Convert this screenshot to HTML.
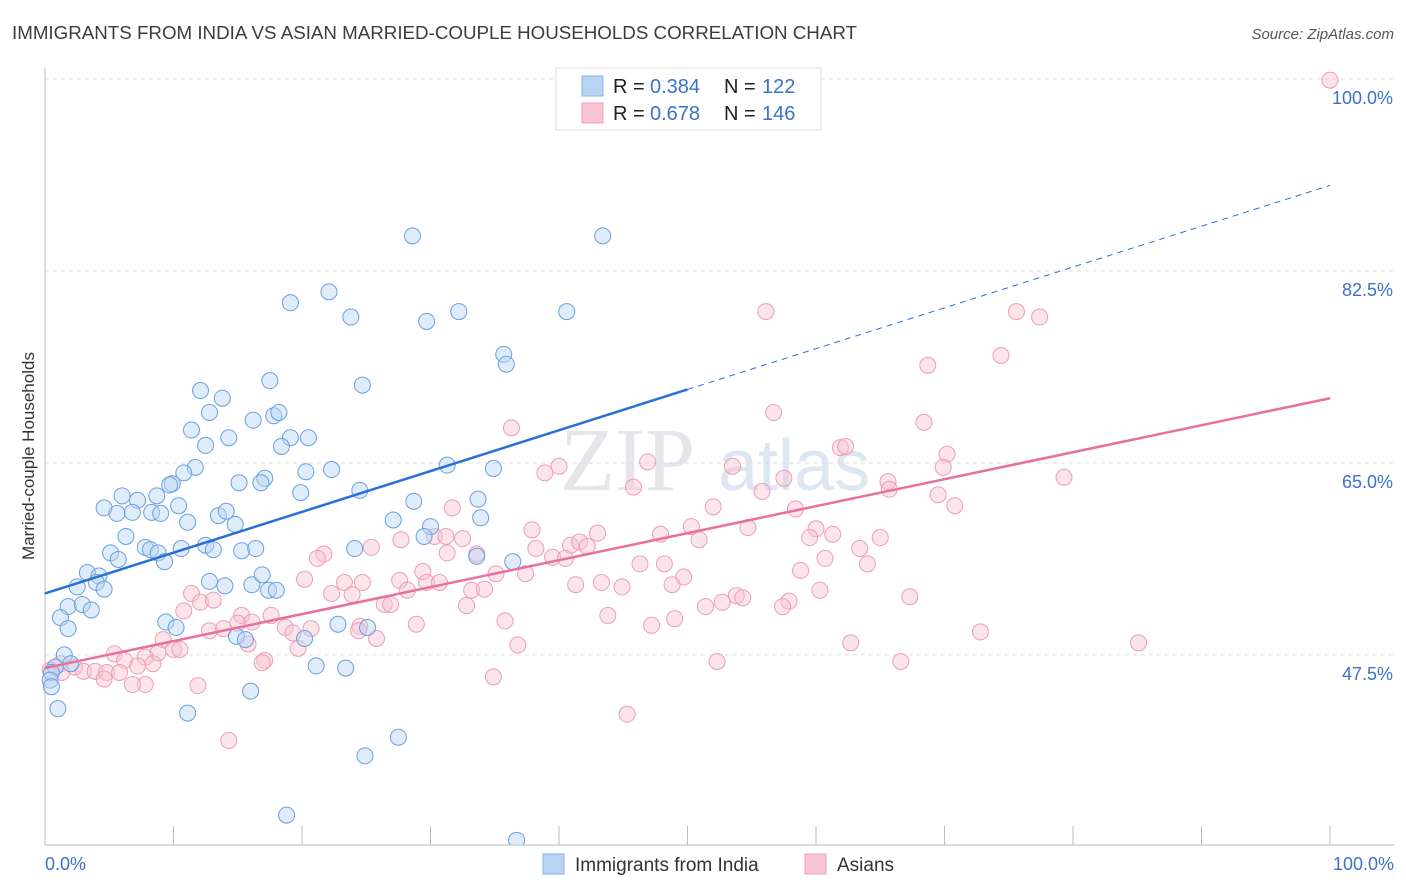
<!DOCTYPE html>
<html><head><meta charset="utf-8"><style>
body{margin:0;background:#fff;font-family:"Liberation Sans",sans-serif;}
svg{display:block}
</style></head><body>
<svg id="chart" width="1406" height="892">
<text x="12" y="39" font-size="18" fill="#3c3c3c" textLength="845" lengthAdjust="spacingAndGlyphs">IMMIGRANTS FROM INDIA VS ASIAN MARRIED-COUPLE HOUSEHOLDS CORRELATION CHART</text>
<text x="1394" y="39" font-size="15" fill="#555" font-style="italic" text-anchor="end">Source: ZipAtlas.com</text>
<text x="34" y="456" font-size="17" fill="#333" text-anchor="middle" transform="rotate(-90 34 456)">Married-couple Households</text>
<text x="560" y="490" font-size="90" fill="#e6e6ea" font-family="Liberation Serif,serif">ZIP</text>
<text x="718" y="490" font-size="72" fill="#dde6f2">atlas</text>
<g id="grid"></g>
<g id="axes"></g>
<defs><clipPath id="pc"><rect x="0" y="60" width="1406" height="785"/></clipPath></defs>
<g id="pts" clip-path="url(#pc)"></g>
<g id="lines"></g>
<g>
<rect x="556" y="68" width="265" height="62" fill="#fff" stroke="#ddd"/>
<rect x="582" y="76" width="21" height="20" fill="#b8d4f5" stroke="#8ab4e8"/>
<rect x="582" y="103" width="21" height="20" fill="#f9c4d3" stroke="#ee9db5"/>
<text x="613" y="93" font-size="20" fill="#222">R =</text>
<text x="650" y="93" font-size="20" fill="#3a72cc">0.384</text>
<text x="724" y="93" font-size="20" fill="#222">N =</text>
<text x="762" y="93" font-size="20" fill="#3a72cc">122</text>
<text x="613" y="120" font-size="20" fill="#222">R =</text>
<text x="650" y="120" font-size="20" fill="#3a72cc">0.678</text>
<text x="724" y="120" font-size="20" fill="#222">N =</text>
<text x="762" y="120" font-size="20" fill="#3a72cc">146</text>
</g>
<g>
<rect x="543" y="854" width="21" height="20" fill="#b8d4f5" stroke="#8ab4e8"/>
<text x="575" y="871" font-size="19" fill="#333">Immigrants from India</text>
<rect x="805" y="854" width="21" height="20" fill="#f9c4d3" stroke="#ee9db5"/>
<text x="837" y="871" font-size="19" fill="#333">Asians</text>
</g>
<text x="45" y="870" font-size="18" fill="#3a72cc">0.0%</text>
<text x="1394" y="870" font-size="18" fill="#3a72cc" text-anchor="end">100.0%</text>
</svg>
<script>
const yTicks=[100,82.5,65,47.5];
const yTickLabels=["100.0%","82.5%","65.0%","47.5%"];
const blueX=[28.6,43.4,19.1,22.1,23.8,29.7,32.2,40.6,35.7,35.9,24.7,17.5,12.1,13.8,12.8,16.2,17.8,18.2,11.4,14.3,19.1,20.5,18.4,12.5,31.3,34.9,11.7,10.8,20.3,22.3,17.1,16.8,15.1,9.9,9.7,8.7,6.0,7.2,19.9,24.5,28.7,33.7,4.6,10.4,5.6,6.8,8.3,9.0,13.5,14.1,11.1,14.8,27.1,33.9,30.0,29.5,6.3,5.1,5.7,7.8,8.2,8.8,9.3,10.6,12.5,13.1,15.3,16.4,24.1,33.6,36.4,3.3,4.2,4.0,2.5,4.6,12.8,14.0,16.1,16.9,17.4,18.0,1.8,2.9,3.6,1.2,1.8,9.4,10.2,14.9,15.6,20.2,22.8,25.1,1.5,2.0,0.8,0.5,0.4,0.5,1.0,16.0,11.1,21.1,23.4,24.9,27.5,18.8,36.7];
const blueY=[85.7,85.7,79.6,80.6,78.3,77.9,78.8,78.8,74.9,74.0,72.1,72.5,71.6,70.9,69.6,68.9,69.3,69.6,68.0,67.3,67.3,67.3,66.5,66.6,64.8,64.5,64.6,64.1,64.2,64.4,63.6,63.2,63.2,63.1,63.0,62.0,62.0,61.6,62.3,62.5,61.5,61.7,60.9,61.1,60.4,60.5,60.5,60.4,60.2,60.6,59.6,59.4,59.8,60.0,59.2,58.3,58.3,56.8,56.2,57.3,57.1,56.8,56.0,57.2,57.5,57.1,57.0,57.2,57.2,56.5,56.0,55.0,54.7,54.1,53.7,53.5,54.2,53.8,53.9,54.8,53.4,53.4,51.9,52.1,51.6,50.9,49.9,50.5,50.0,49.2,48.9,49.0,50.3,50.0,47.5,46.7,46.4,45.9,45.2,44.6,42.6,44.2,42.2,46.5,46.3,38.3,40.0,32.9,30.6];
const pinkX=[100,56.1,75.6,77.4,74.4,68.7,56.7,68.4,36.3,61.9,62.3,70.2,40.0,46.9,53.5,38.9,69.9,79.3,57.5,45.8,55.8,65.6,65.7,69.5,70.8,52.0,31.7,58.4,50.3,54.7,60.0,47.9,61.3,37.9,43.0,50.9,65.0,59.5,27.7,30.3,31.2,32.5,40.9,41.6,42.2,38.2,25.4,31.3,33.6,21.7,21.2,63.4,60.7,39.5,40.5,46.3,48.2,64.0,58.8,29.4,35.1,37.4,49.7,20.2,23.3,24.7,27.6,29.7,30.7,33.2,34.2,41.3,43.3,44.9,48.8,60.3,11.4,22.3,23.9,28.2,12.1,13.1,53.8,54.3,52.7,57.9,26.4,26.9,32.8,51.4,57.4,67.3,10.8,15.3,17.6,43.8,35.8,49.0,47.2,15.0,16.1,18.7,20.7,24.5,24.4,28.9,12.8,13.9,19.3,72.8,25.8,9.2,15.8,36.8,62.7,85.1,10.0,19.7,10.5,8.8,7.8,5.4,6.2,8.4,7.2,17.1,16.9,52.3,66.6,1.2,2.3,3.0,3.9,4.8,5.8,4.6,34.9,7.8,6.8,11.9,45.3,14.3,0.4,1.3];
const pinkY=[99.9,78.8,78.8,78.3,74.8,73.9,69.6,68.7,68.2,66.4,66.5,65.8,64.7,65.1,64.7,64.1,64.6,63.7,63.6,62.8,62.4,63.3,62.6,62.1,61.1,61.0,60.9,60.8,59.2,59.1,59.0,58.5,58.5,58.9,58.6,58.0,58.2,58.2,58.0,58.3,58.3,58.1,57.5,57.8,57.4,57.2,57.3,56.8,56.7,56.7,56.3,57.2,56.3,56.4,56.3,55.8,55.8,55.8,55.2,55.1,54.9,54.9,54.6,54.4,54.1,54.1,54.3,54.1,54.1,53.4,53.5,53.9,54.1,53.7,53.9,53.4,53.1,53.1,53.0,53.4,52.3,52.5,52.9,52.7,52.3,52.4,52.1,52.1,52.0,51.9,51.9,52.8,51.5,51.1,51.1,51.1,50.6,50.8,50.2,50.4,50.5,50.0,49.9,50.1,49.7,50.3,49.7,49.9,49.5,49.6,49.0,48.9,48.5,48.4,48.6,48.6,48.0,48.1,48.0,47.7,47.3,47.6,47.0,46.7,46.5,47.0,46.8,46.9,46.9,46.7,46.4,46.0,46.0,45.9,45.9,45.3,45.5,44.8,44.8,44.7,42.1,39.7,46.1,45.9];
const blueTrend=[53.1,90.3];
const pinkTrend=[46.3,70.9];

const NS="http://www.w3.org/2000/svg";
const sx=v=>45+v*12.85;
const sy=v=>79+(100-v)*10.97;
function mk(tag,attrs,parent){const e=document.createElementNS(NS,tag);for(const k in attrs)e.setAttribute(k,attrs[k]);parent.appendChild(e);return e;}
const grid=document.getElementById('grid'),axes=document.getElementById('axes'),pts=document.getElementById('pts'),lines=document.getElementById('lines');
yTicks.forEach((t,i)=>{
  const l=mk('line',{x1:45,x2:1394,y1:sy(t),y2:sy(t),stroke:'#ddd','stroke-dasharray':'4,4'},grid);
  
  
  const tx=mk('text',{x:1393,y:sy(t)+25,'font-size':18,fill:'#3a72cc','text-anchor':'end'},grid);
  tx.textContent=yTickLabels[i];
  
  
});
const ax=mk('line',{x1:45,x2:45,y1:68,y2:845,stroke:'#bbb'},axes);


const bx=mk('line',{x1:45,x2:1394,y1:845,y2:845,stroke:'#bbb'},axes);


for(let i=1;i<=10;i++){
  const tk=mk('line',{x1:sx(i*10),x2:sx(i*10),y1:826,y2:845,stroke:'#bbb'},axes);
  
  
}
function dots(X,Y,fill,stroke,name){
  X.forEach((x,i)=>{
    const c=mk('circle',{cx:sx(x),cy:sy(Y[i]),r:8,fill:fill,'fill-opacity':0.45,stroke:stroke,'stroke-width':1},pts);
    
    
  });
}
dots(pinkX,pinkY,'#f9c4d3','#ee9db5','asians-point');
dots(blueX,blueY,'#b8d4f5','#6a9fe2','india-point');
const slopeB=(blueTrend[1]-blueTrend[0])/100;
const b1=mk('line',{x1:sx(0),y1:sy(blueTrend[0]),x2:sx(50),y2:sy(blueTrend[0]+slopeB*50),stroke:'#2a6fd6','stroke-width':2.5},lines);


const b2=mk('line',{x1:sx(50),y1:sy(blueTrend[0]+slopeB*50),x2:sx(100),y2:sy(blueTrend[1]),stroke:'#2a6fd6','stroke-width':1,'stroke-dasharray':'6,5'},lines);


const p1=mk('line',{x1:sx(0),y1:sy(pinkTrend[0]),x2:sx(100),y2:sy(pinkTrend[1]),stroke:'#e8709a','stroke-width':2.5},lines);


</script>
</body></html>
